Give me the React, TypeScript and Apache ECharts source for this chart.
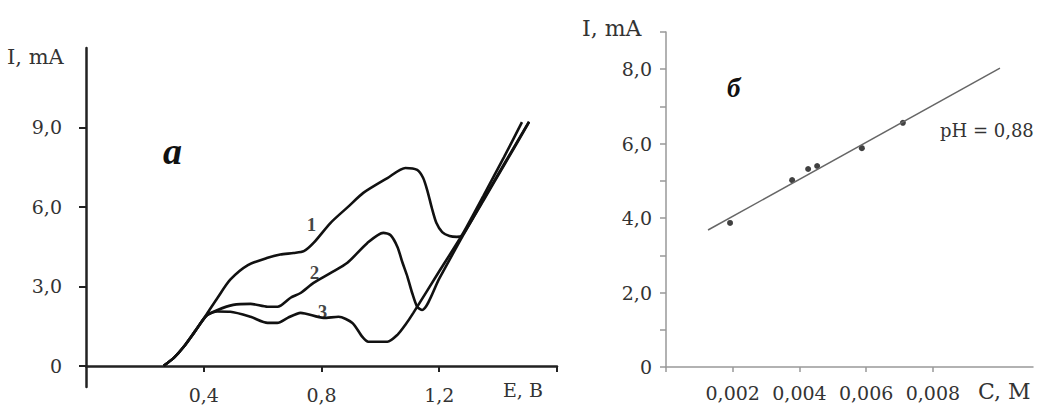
import React, { useEffect, useRef } from "react";
import * as echarts from "echarts";

// ---- Panel a: cyclic voltammograms (E, V vs I, mA) ----
const E1 = [0.264, 0.3, 0.332, 0.37, 0.41, 0.447, 0.49, 0.55, 0.617, 0.66, 0.705, 0.74, 0.773, 0.831, 0.89, 0.942, 1.024, 1.085, 1.125, 1.145, 1.16, 1.175, 1.19, 1.21, 1.235, 1.26, 1.278, 1.35, 1.42, 1.505];
const I1 = [0, 0.32, 0.72, 1.3, 1.95, 2.57, 3.25, 3.8, 4.08, 4.2, 4.26, 4.33, 4.64, 5.4, 6.0, 6.53, 7.09, 7.47, 7.4, 7.1, 6.6, 5.95, 5.4, 5.05, 4.9, 4.87, 4.92, 6.28, 7.61, 9.22];

const E2 = [0.264, 0.3, 0.332, 0.37, 0.41, 0.447, 0.5, 0.559, 0.617, 0.651, 0.695, 0.729, 0.773, 0.83, 0.888, 0.956, 1.01, 1.034, 1.058, 1.075, 1.092, 1.108, 1.125, 1.142, 1.2, 1.278, 1.35, 1.42, 1.505];
const I2 = [0, 0.32, 0.72, 1.3, 1.9, 2.11, 2.3, 2.34, 2.23, 2.23, 2.57, 2.75, 3.13, 3.5, 3.89, 4.64, 5.02, 4.94, 4.49, 3.9, 3.36, 2.75, 2.23, 2.11, 3.29, 4.87, 6.24, 7.57, 9.2];

const E3 = [0.264, 0.3, 0.332, 0.37, 0.41, 0.447, 0.49, 0.559, 0.617, 0.65, 0.685, 0.729, 0.807, 0.858, 0.905, 0.939, 0.959, 1.024, 1.058, 1.085, 1.112, 1.2, 1.278, 1.35, 1.42, 1.481];
const I3 = [0, 0.32, 0.72, 1.3, 1.9, 2.05, 2.04, 1.85, 1.62, 1.62, 1.81, 2.0, 1.81, 1.85, 1.62, 1.09, 0.91, 0.91, 1.17, 1.55, 2.0, 3.57, 4.95, 6.42, 7.88, 9.2];

const curveLabels = ["1", "2", "3"];
const curveLabelE = [0.766, 0.776, 0.803];
const curveLabelI = [5.32, 3.51, 2.04];

const leftXTicks = [0.4, 0.8, 1.2, 1.6];
const leftXLabels = [0.4, 0.8, 1.2];
const leftYTicks = [0, 3, 6, 9];

// ---- Panel б: I vs concentration ----
const concC = [0.00192, 0.00378, 0.00426, 0.00453, 0.00587, 0.0071];
const concI = [3.87, 5.02, 5.32, 5.4, 5.88, 6.56];
const fitC = [0.00126, 0.01001];
const fitI = [3.68, 8.03];

const rightXTicks = [0, 0.002, 0.004, 0.006, 0.008];
const rightXLabels = [0.002, 0.004, 0.006, 0.008];
const rightYLabels = [0, 2, 4, 6, 8];

const FONT = "DejaVu Serif";
const TXT = "#333";

const zip = (a: number[], b: number[]) => a.map((v, i) => [v, b[i]]);
const comma = (v: number, d: number) => (v === 0 ? "0" : v.toFixed(d).replace(".", ","));

export default function App() {
  const ref = useRef<HTMLDivElement>(null);
  useEffect(() => {
    if (!ref.current) return;
    const chart = echarts.init(ref.current, undefined, { renderer: "svg" });
    const curveStyle = { color: "#111", width: 2.6 };
    const SM = 0.25;
    chart.setOption({
      animation: false,
      backgroundColor: "#fff",
      grid: [
        { left: 86, top: 48, width: 471, height: 339, outerBoundsMode: "none", containLabel: false },
        { left: 666, top: 32, width: 367, height: 335, outerBoundsMode: "none", containLabel: false },
      ],
      xAxis: [
        {
          gridIndex: 0,
          type: "value",
          min: 0,
          max: 1.6,
          offset: -21,
          axisLine: { onZero: false, lineStyle: { color: "#222", width: 2.5 } },
          axisTick: { show: true, customValues: leftXTicks, length: 6, lineStyle: { color: "#222", width: 2 } },
          axisLabel: {
            customValues: leftXLabels,
            formatter: (v: number) => comma(v, 1),
            margin: 19,
            fontSize: 19,
            fontFamily: FONT,
            color: TXT,
          },
          splitLine: { show: false },
        },
        {
          gridIndex: 1,
          type: "value",
          min: 0,
          max: 0.011,
          axisLine: { lineStyle: { color: "#999", width: 1.5 } },
          axisTick: { show: true, customValues: rightXTicks, length: 5, lineStyle: { color: "#999", width: 1.5 } },
          axisLabel: {
            customValues: rightXLabels,
            formatter: (v: number) => comma(v, 3),
            margin: 16,
            fontSize: 19,
            fontFamily: FONT,
            color: TXT,
          },
          splitLine: { show: false },
        },
      ],
      yAxis: [
        {
          gridIndex: 0,
          type: "value",
          min: -0.8,
          max: 12,
          axisLine: { show: true, onZero: false, lineStyle: { color: "#222", width: 2.5 } },
          axisTick: { show: true, customValues: leftYTicks, length: 7, lineStyle: { color: "#222", width: 2 } },
          axisLabel: {
            customValues: leftYTicks,
            formatter: (v: number) => comma(v, 1),
            margin: 24,
            fontSize: 19,
            fontFamily: FONT,
            color: TXT,
          },
          splitLine: { show: false },
        },
        {
          gridIndex: 1,
          type: "value",
          min: 0,
          max: 9,
          interval: 1,
          axisLine: { show: true, lineStyle: { color: "#999", width: 1.5 } },
          axisTick: { show: true, length: 6, lineStyle: { color: "#999", width: 1.5 } },
          axisLabel: {
            customValues: rightYLabels,
            formatter: (v: number) => comma(v, 1),
            margin: 14,
            fontSize: 19,
            fontFamily: FONT,
            color: TXT,
          },
          splitLine: { show: false },
        },
      ],
      series: [
        { type: "line", xAxisIndex: 0, yAxisIndex: 0, data: zip(E1, I1), smooth: SM, showSymbol: false, lineStyle: curveStyle },
        { type: "line", xAxisIndex: 0, yAxisIndex: 0, data: zip(E2, I2), smooth: SM, showSymbol: false, lineStyle: curveStyle },
        { type: "line", xAxisIndex: 0, yAxisIndex: 0, data: zip(E3, I3), smooth: SM, showSymbol: false, lineStyle: curveStyle },
        {
          type: "scatter",
          xAxisIndex: 0,
          yAxisIndex: 0,
          symbolSize: 0,
          data: curveLabels.map((n, i) => ({ name: n, value: [curveLabelE[i], curveLabelI[i]] })),
          label: {
            show: true,
            position: "inside",
            formatter: (p: any) => p.name,
            fontSize: 19,
            fontWeight: "bold",
            fontFamily: "Liberation Serif",
            color: "#111",
          },
          silent: true,
        },
        {
          type: "line",
          xAxisIndex: 1,
          yAxisIndex: 1,
          data: zip(fitC, fitI),
          showSymbol: false,
          lineStyle: { color: "#666", width: 1.5 },
        },
        {
          type: "scatter",
          xAxisIndex: 1,
          yAxisIndex: 1,
          data: zip(concC, concI),
          symbolSize: 6,
          itemStyle: { color: "#111" },
        },
      ],
      graphic: [
        { type: "text", left: 7, top: 46, style: { text: "I, mA", font: `21px "${FONT}"`, fill: TXT } },
        { type: "text", left: 582, top: 17, style: { text: "I, mA", font: `22px "${FONT}"`, fill: TXT } },
        { type: "text", left: 503, top: 380, style: { text: "E, B", font: `19px "${FONT}"`, fill: TXT } },
        { type: "text", left: 978, top: 380, style: { text: "C, M", font: `22px "${FONT}"`, fill: TXT } },
        { type: "text", left: 163, top: 132, style: { text: "a", font: `italic bold 38px "Liberation Serif"`, fill: "#111" } },
        { type: "text", left: 727, top: 74, style: { text: "б", font: `italic bold 27px "Liberation Serif"`, fill: "#111" } },
        { type: "text", left: 940, top: 121, style: { text: "pH = 0,88", font: `18px "${FONT}"`, fill: TXT } },
      ],
    });
    return () => chart.dispose();
  }, []);
  return (
    <div
      ref={ref}
      style={{ position: "fixed", left: 0, top: 0, width: 1052, height: 410, background: "#fff" }}
    />
  );
}
